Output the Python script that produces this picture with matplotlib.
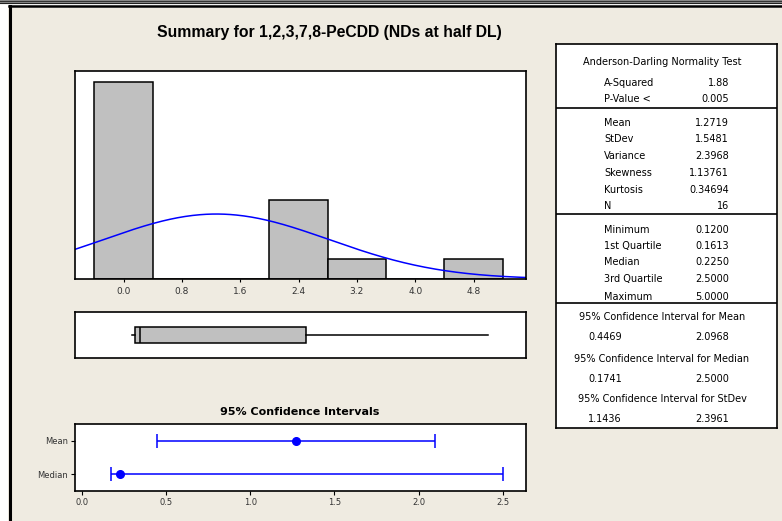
import numpy as np
import matplotlib
matplotlib.use('Agg')
import matplotlib.pyplot as plt
from matplotlib.lines import Line2D
from matplotlib.patches import Rectangle

# histogram data (bin centres and counts)
bin_centers = [0.0, 0.8, 1.6, 2.4, 3.2, 4.0, 4.8]
bin_counts = [10, 0, 0, 4, 1, 0, 1]
bin_width = 0.8
hist_ticks = [0.0, 0.8, 1.6, 2.4, 3.2, 4.0, 4.8]

# summary statistics
n_obs = 16
mean_val = 1.2719
stdev_val = 1.5481
min_val, q1_val, med_val, q3_val, max_val = 0.12, 0.1613, 0.225, 2.5, 5.0

# confidence intervals
ci_labels = ['Median', 'Mean']
ci_centers = [0.225, 1.2719]
ci_low = [0.1741, 0.4469]
ci_high = [2.5000, 2.0968]
ci_ticks = [0.0, 0.5, 1.0, 1.5, 2.0, 2.5]

# table text
ad_rows = [('A-Squared', '1.88'), ('P-Value <', '0.005')]
moment_rows = [('Mean', '1.2719'), ('StDev', '1.5481'), ('Variance', '2.3968'),
               ('Skewness', '1.13761'), ('Kurtosis', '0.34694'), ('N', '16')]
quant_rows = [('Minimum', '0.1200'), ('1st Quartile', '0.1613'), ('Median', '0.2250'),
              ('3rd Quartile', '2.5000'), ('Maximum', '5.0000')]
ci_rows = [('95% Confidence Interval for Mean', '0.4469', '2.0968'),
           ('95% Confidence Interval for Median', '0.1741', '2.5000'),
           ('95% Confidence Interval for StDev', '1.1436', '2.3961')]

BG = '#EFEBE1'
BLUE = '#0000FF'
W, H = 782, 521

fig = plt.figure(figsize=(W / 100, H / 100), dpi=100)
fig.patch.set_facecolor(BG)


def px_axes(l, t, r, b):
    return fig.add_axes([l / W, 1 - b / H, (r - l) / W, (b - t) / H])


# frame decoration around the panel
deco = fig.add_axes([0, 0, 1, 1])
deco.set_xlim(0, W)
deco.set_ylim(H, 0)
deco.axis('off')
deco.add_patch(Rectangle((0, 0), W, 8, facecolor='white', edgecolor='none'))
deco.add_patch(Rectangle((0, 0), 8, H, facecolor='white', edgecolor='none'))
deco.add_patch(Rectangle((0, 0), W, 4, facecolor='#8c8c8c', edgecolor='none'))
deco.add_line(Line2D([0, W], [1.2, 1.2], color='#333333', lw=0.8))
deco.add_line(Line2D([0, W], [3.4, 3.4], color='#222222', lw=0.8))
deco.add_line(Line2D([9, W], [6.3, 6.3], color='black', lw=1.8))
deco.add_line(Line2D([9.5, 9.5], [6, H], color='black', lw=2.2))

fig.text(329 / W, 1 - 33 / H, 'Summary for 1,2,3,7,8-PeCDD (NDs at half DL)',
         ha='center', va='center', fontsize=11.3, fontweight='bold',
         family=['Liberation Sans', 'DejaVu Sans'])

# histogram with fitted normal curve
ax1 = px_axes(75, 71, 526, 279)
ax1.bar(bin_centers, bin_counts, width=bin_width, color='#C0C0C0',
        edgecolor='black', linewidth=1.1)
x = np.linspace(-0.667, 5.52, 300)
pdf = n_obs * bin_width * np.exp(-0.5 * ((x - mean_val) / stdev_val) ** 2) / (stdev_val * np.sqrt(2 * np.pi))
ax1.plot(x, pdf, color=BLUE, lw=1.1)
ax1.set_xlim(-0.667, 5.52)
ax1.set_ylim(0, 10.56)
ax1.set_xticks(hist_ticks)
ax1.set_xticklabels(['%.1f' % t for t in hist_ticks])
ax1.set_yticks([])
ax1.tick_params(axis='x', length=2, labelsize=6.5, labelcolor='#333333', pad=4)

# box plot
ax2 = px_axes(75, 312, 526, 358)
stats = [dict(med=med_val, q1=q1_val, q3=q3_val, whislo=min_val, whishi=max_val, fliers=[])]
ax2.bxp(stats, vert=False, widths=0.35, showcaps=False, patch_artist=True,
        boxprops=dict(facecolor='#C0C0C0', edgecolor='black', linewidth=1.1),
        medianprops=dict(color='black', linewidth=1.1),
        whiskerprops=dict(color='black', linewidth=1.1))
ax2.set_xlim(-0.667, 5.52)
ax2.set_ylim(0.5, 1.5)
ax2.set_xticks([])
ax2.set_yticks([])

# confidence intervals
ax3 = px_axes(75, 424, 526, 491)
ypos = np.arange(len(ci_labels))
xerr = [np.array(ci_centers) - np.array(ci_low), np.array(ci_high) - np.array(ci_centers)]
ax3.errorbar(ci_centers, ypos, xerr=xerr, fmt='o', color=BLUE, ms=5.5,
             capsize=5, elinewidth=1.1, capthick=1.1)
ax3.set_xlim(-0.039, 2.636)
ax3.set_ylim(-0.5, 1.5)
ax3.set_yticks(ypos)
ax3.set_yticklabels(ci_labels)
ax3.set_xticks(ci_ticks)
ax3.set_xticklabels(['%.1f' % t for t in ci_ticks])
ax3.tick_params(axis='both', length=3, labelsize=6, labelcolor='#333333', pad=2)
fig.text(300 / W, 1 - 412 / H, '95% Confidence Intervals', ha='center', va='center',
         fontsize=8, fontweight='bold')

for a in (ax1, ax2, ax3):
    for s in a.spines.values():
        s.set_linewidth(1.2)

# summary table
tb = px_axes(556, 44, 777, 428)
tb.set_xlim(556, 777)
tb.set_ylim(428, 44)
tb.set_xticks([])
tb.set_yticks([])
for s in tb.spines.values():
    s.set_linewidth(1.2)
for yl in (108.3, 214, 303.3):
    tb.axhline(yl, color='black', lw=1.2)

fs = 7
tb.text(662, 62, 'Anderson-Darling Normality Test', ha='center', va='center', fontsize=fs)
for rows, ys in ((ad_rows, [83.3, 99.3]),
                 (moment_rows, [122.7, 139.3, 155.7, 173, 190, 205.7]),
                 (quant_rows, [230.3, 246, 262, 279.3, 296.7])):
    for (lab, val), yy in zip(rows, ys):
        tb.text(604, yy, lab, ha='left', va='center', fontsize=fs)
        tb.text(729, yy, val, ha='right', va='center', fontsize=fs)

for (lab, lo, hi), yy in zip(ci_rows, [316.7, 359, 399]):
    tb.text(662, yy, lab, ha='center', va='center', fontsize=fs)
    tb.text(605, yy + 20.3, lo, ha='center', va='center', fontsize=fs)
    tb.text(712, yy + 20.3, hi, ha='center', va='center', fontsize=fs)

fig.savefig('out.png', dpi=100, facecolor=BG)
